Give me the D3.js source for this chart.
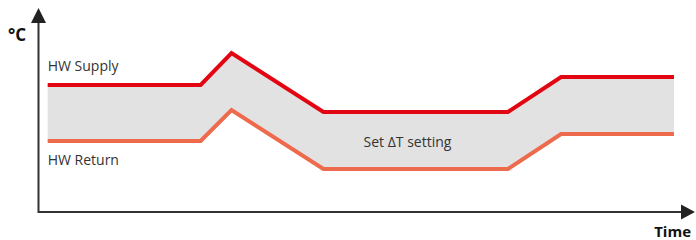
<html>
<head>
  <meta charset="UTF-8">
  <script src="https://d3js.org/d3.v7.min.js"></script>
  <style>
    body { margin: 0; background: #fff; }
    svg { display: block; font-family: "Open Sans", sans-serif; }
  </style>
</head>
<body>
<svg id="chart"></svg>
<script>
  // time points (0-100 across the axis) and temperatures (0-100 up the axis)
  var times = [1.4, 24.7, 29.4, 43.4, 71.5, 79.6, 96.8];
  var supply = [63.5, 63.5, 79.5, 50, 50, 67.5, 67.5];
  var ret = [35.5, 35.5, 51, 21.5, 21.5, 39, 39];
  var labels = {supply: "HW Supply", ret: "HW Return", band: "Set ΔT setting", y: "°C", x: "Time"};

  var width = 696, height = 240;
  var svg = d3.select('#chart').attr('width', width).attr('height', height);

  var x = d3.scaleLinear().domain([0, 100]).range([38.5, 695]);
  var y = d3.scaleLinear().domain([0, 100]).range([212, 12]);

  var pts = times.map((t, i) => ({t: t, s: supply[i], r: ret[i]}));

  // band between the two lines
  svg.append('path')
    .datum(pts)
    .attr('fill', '#e2e2e2')
    .attr('d', d3.area().x(d => x(d.t)).y0(d => y(d.r)).y1(d => y(d.s)));

  var line = key => d3.line().x(d => x(d.t)).y(d => y(d[key]));
  svg.append('path').datum(pts)
    .attr('fill', 'none').attr('stroke', '#ee6a4c').attr('stroke-width', 4)
    .attr('d', line('r'));
  svg.append('path').datum(pts)
    .attr('fill', 'none').attr('stroke', '#e20613').attr('stroke-width', 4)
    .attr('d', line('s'));

  // axes with arrow heads
  var axisColor = '#333';
  svg.append('path')
    .attr('fill', 'none').attr('stroke', axisColor).attr('stroke-width', 2)
    .attr('d', 'M' + x(0) + ',' + (y.range()[1] + 6) + 'V' + y(0) + 'H' + (x.range()[1] - 12));
  svg.append('path').attr('fill', '#222')
    .attr('d', 'M' + x(0) + ',' + (y.range()[1] - 4) + 'l-7.5,15h15z');
  svg.append('path').attr('fill', '#222')
    .attr('d', 'M' + (x.range()[1]) + ',' + y(0) + 'l-14,-7.5v15z');

  var txt = '#333';
  svg.append('text').attr('x', 8).attr('y', 41)
    .attr('font-size', 17).attr('font-weight', 'bold').attr('fill', '#111').text(labels.y);
  svg.append('text').attr('x', 691).attr('y', 237).attr('text-anchor', 'end')
    .attr('font-size', 15).attr('font-weight', 'bold').attr('fill', '#111').text(labels.x);

  svg.append('text').attr('x', x(times[0])).attr('y', y(supply[0]) - 14)
    .attr('font-size', 14).attr('fill', txt).text(labels.supply);
  svg.append('text').attr('x', x(times[0])).attr('y', y(ret[0]) + 24)
    .attr('font-size', 14).attr('fill', txt).text(labels.ret);
  svg.append('text').attr('x', x(56.2)).attr('y', 147)
    .attr('text-anchor', 'middle').attr('font-size', 14).attr('fill', txt).text(labels.band);
</script>
</body>
</html>
